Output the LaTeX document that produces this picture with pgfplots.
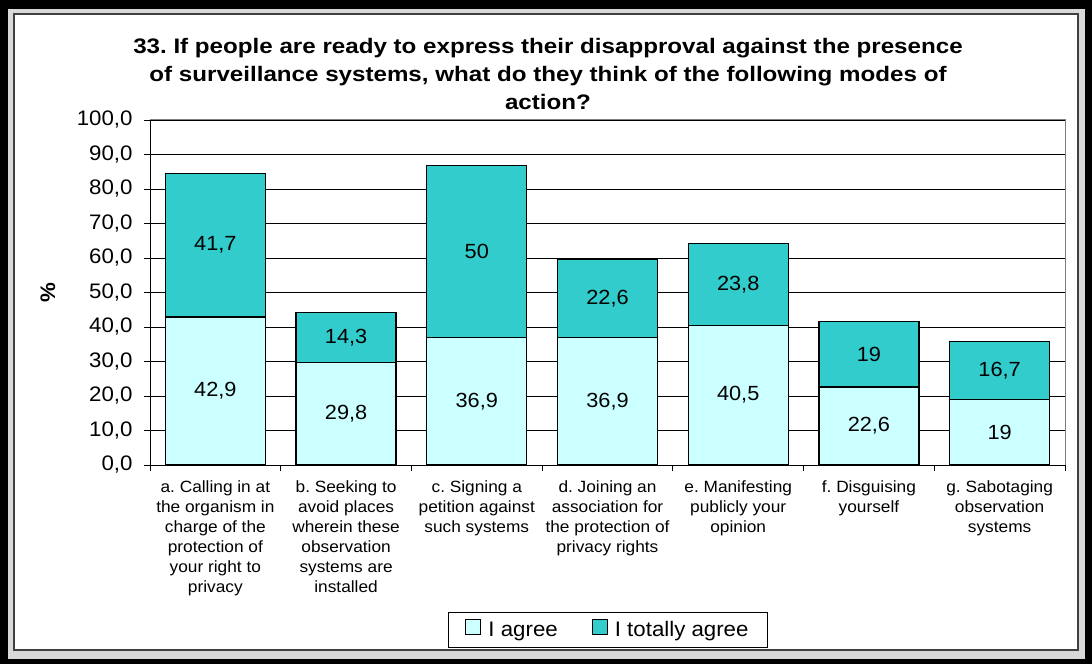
\documentclass[border=0pt]{standalone}
\usepackage{pgfplots}
\pgfplotsset{compat=1.18}
\usepackage{pgfplotstable}
\usepackage{fontspec}
\setmainfont[FakeStretch=1.06]{Liberation Sans}
\newfontfamily\titlefont[FakeStretch=1.15]{Liberation Sans}
\definecolor{agreec}{HTML}{CCFFFF}
\definecolor{totalc}{HTML}{33CCCC}
\definecolor{bandc}{HTML}{D9D9D9}
\frenchspacing

\pgfplotstableread{
x agree total
0 42.9 41.7
1 29.8 14.3
2 36.9 50
3 36.9 22.6
4 40.5 23.8
5 22.6 19
6 19 16.7
}\data

\begin{document}
\begin{tikzpicture}
\path[use as bounding box] (0,0) rectangle (1092pt,664pt);
\fill[black] (0,0) rectangle (1092pt,664pt);
\fill[bandc] (8pt,5pt) rectangle (1085pt,655pt);
\filldraw[fill=white,draw=black!75,line width=1.2pt] (14pt,14pt) rectangle (1078pt,650pt);
\begin{axis}[
  at={(150pt,199pt)}, anchor=south west,
  scale only axis, width=915pt, height=345pt,
  ybar stacked, bar width=100pt,
  xmin=-0.5, xmax=6.5, ymin=0, ymax=100,
  axis x line*=bottom, axis y line*=left,
  axis line style={black, line width=0.9pt},
  ytick={0,10,20,30,40,50,60,70,80,90,100},
  yticklabel style={/pgf/number format/.cd, fixed, fixed zerofill, precision=1, use comma, assume math mode=true, /tikz/.cd, font=\fontsize{21}{24}\selectfont, xshift=-8pt},
  ymajorgrids, grid style={black, line width=0.8pt},
  tick align=outside,
  major tick length=6pt,
  tick style={black, line width=0.9pt},
  xtick={-0.5,0.5,1.5,2.5,3.5,4.5,5.5,6.5},
  xticklabels={},
  extra x ticks={0,1,2,3,4,5,6},
  extra x tick labels={
    {a. Calling in at\\the organism in\\charge of the\\protection of\\your right to\\privacy},
    {b. Seeking to\\avoid places\\wherein these\\observation\\systems are\\installed},
    {c. Signing a\\petition against\\such systems},
    {d. Joining an\\association for\\the protection of\\privacy rights},
    {e. Manifesting\\publicly your\\opinion},
    {f. Disguising\\yourself},
    {g. Sabotaging\\observation\\systems}},
  extra x tick style={major tick length=0pt, xmajorgrids=false,
    xticklabel style={align=center, font=\fontsize{16.3}{20}\selectfont, yshift=-12pt}},
  ylabel={\%},
  ylabel style={at={(axis description cs:-0.1115,0.5)}, anchor=center, font=\bfseries\fontsize{21}{24}\selectfont},
  legend style={at={(0.5005,-0.478)}, anchor=center, legend columns=2, draw=black, line width=0.8pt,
    font=\fontsize{21}{24}\selectfont, inner xsep=17pt, inner ysep=7.5pt,
    /tikz/every even column/.append style={column sep=32pt}},
  legend image code/.code={\draw[#1,line width=1pt] (0pt,-5pt) rectangle (15pt,10pt); \path (20pt,0pt);},
  point meta=explicit symbolic,
  nodes near coords={\pgfmathprintnumber[use comma, assume math mode=true]{\pgfplotspointmeta}},
  every node near coord/.append style={anchor=center, font=\fontsize{20.5}{24}\selectfont, text=black},
  clip=false,
]
\addplot[fill=agreec, draw=black, line width=1.2pt]
  table[x=x,y=agree,meta=agree]{\data};
\addplot[fill=totalc, draw=black, line width=1.2pt]
  table[x=x,y=total,meta=total]{\data};
\legend{I agree, I totally agree}
\draw[gray, line width=1pt] (rel axis cs:0,1) -- (rel axis cs:1,1) -- (rel axis cs:1,0);
\end{axis}
\node[align=center, font=\titlefont\bfseries\fontsize{21}{27.5}\selectfont] at (548pt,590pt)
  {33. If people are ready to express their disapproval against the presence\\of surveillance systems, what do they think of the following modes of\\action?};
\end{tikzpicture}
\end{document}
